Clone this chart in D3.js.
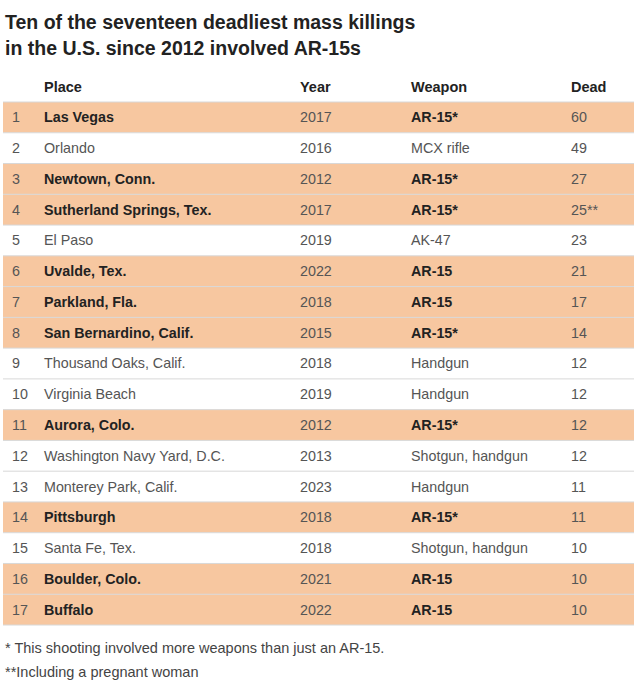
<!DOCTYPE html>
<html><head><meta charset="utf-8">
<script src="https://cdn.jsdelivr.net/npm/d3@7"></script>
<style>body{margin:0;background:#fff;}</style>
</head><body>
<svg id="c" width="637" height="689"></svg>
<script>
const headers = ["Place","Year","Weapon","Dead"];
const places = ["Las Vegas","Orlando","Newtown, Conn.","Sutherland Springs, Tex.","El Paso","Uvalde, Tex.","Parkland, Fla.","San Bernardino, Calif.","Thousand Oaks, Calif.","Virginia Beach","Aurora, Colo.","Washington Navy Yard, D.C.","Monterey Park, Calif.","Pittsburgh","Santa Fe, Tex.","Boulder, Colo.","Buffalo"];
const years = [2017,2016,2012,2017,2019,2022,2018,2015,2018,2019,2012,2013,2023,2018,2018,2021,2022];
const weapons = ["AR-15*","MCX rifle","AR-15*","AR-15*","AK-47","AR-15","AR-15","AR-15*","Handgun","Handgun","AR-15*","Shotgun, handgun","Handgun","AR-15*","Shotgun, handgun","AR-15","AR-15"];
const dead = ["60","49","27","25**","23","21","17","14","12","12","12","12","11","11","10","10","10"];
const ar15 = weapons.map(w => w.startsWith("AR-15"));

const svg = d3.select("#c");
const font = "'Liberation Sans', Arial, sans-serif";
const rows = d3.range(places.length);
const y = d3.scaleBand().domain(rows).range([102, 625]).padding(0);
const colX = d3.scaleOrdinal().domain(["num","Place","Year","Weapon","Dead"]).range([12,44,300,411,571]);

svg.append("text").attr("x",5).attr("y",29).attr("font-family",font).attr("font-size",19.5).attr("font-weight","bold").attr("fill","#222").text("Ten of the seventeen deadliest mass killings");
svg.append("text").attr("x",5).attr("y",55).attr("font-family",font).attr("font-size",19.5).attr("font-weight","bold").attr("fill","#222").text("in the U.S. since 2012 involved AR-15s");

svg.selectAll("text.h").data(headers).join("text").attr("class","h")
  .attr("x",d=>colX(d)).attr("y",92).attr("font-family",font).attr("font-size",14.5).attr("font-weight","bold").attr("fill","#222").text(d=>d);

const g = svg.selectAll("g.r").data(rows).join("g").attr("class","r").attr("transform",i=>`translate(0,${y(i)})`);
g.append("rect").attr("x",3).attr("width",631).attr("height",y.bandwidth()).attr("fill",i=>ar15[i]?"#f7c7a0":"#fff");
g.append("line").attr("x1",3).attr("x2",634).attr("y1",0).attr("y2",0).attr("stroke","#d8d8d8").attr("stroke-width",1);
const ty = y.bandwidth()/2+5;
const cell = (key, fn, boldable) => g.append("text").attr("x",colX(key)).attr("y",ty).attr("font-family",font).attr("font-size",14.3)
  .attr("font-weight",i=>boldable&&ar15[i]?"bold":"normal").attr("fill",i=>boldable&&ar15[i]?"#222":"#555").text(fn);
cell("num", i=>i+1, false);
cell("Place", i=>places[i], true);
cell("Year", i=>years[i], false);
cell("Weapon", i=>weapons[i], true);
cell("Dead", i=>dead[i], false);
svg.append("line").attr("x1",3).attr("x2",634).attr("y1",625).attr("y2",625).attr("stroke","#d8d8d8");

svg.append("text").attr("x",5).attr("y",653).attr("font-family",font).attr("font-size",14.5).attr("fill","#444").text("*  This shooting involved more weapons than just an AR-15.");
svg.append("text").attr("x",5).attr("y",677).attr("font-family",font).attr("font-size",14.5).attr("fill","#444").text("**Including a pregnant woman");
</script>
</body></html>
